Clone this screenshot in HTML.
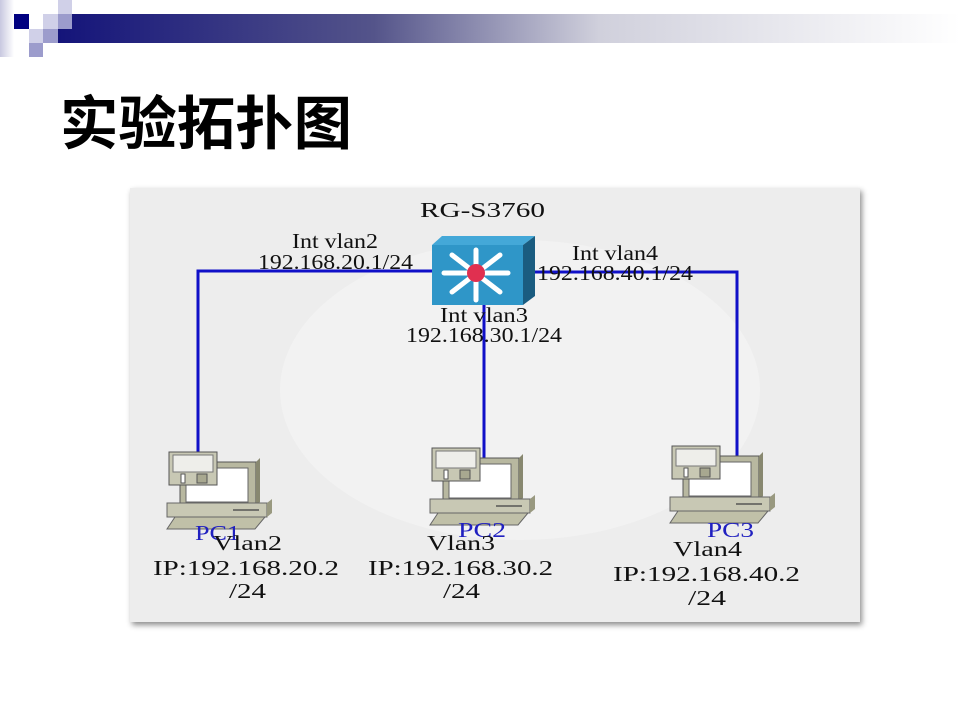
<!DOCTYPE html>
<html><head><meta charset="utf-8"><style>
body{margin:0;width:960px;height:720px;background:#fff;overflow:hidden;font-family:"Liberation Serif",serif;}
</style></head><body>
<svg width="960" height="720" xmlns="http://www.w3.org/2000/svg">
<defs>
<linearGradient id="bar" x1="0" x2="1"><stop offset="0" stop-color="#14147a"/><stop offset="0.35" stop-color="#54548a"/><stop offset="0.6" stop-color="#d0d0dc"/><stop offset="1" stop-color="#ffffff"/></linearGradient>
<linearGradient id="lft" x1="0" x2="1"><stop offset="0" stop-color="#c8c8e0"/><stop offset="1" stop-color="#ffffff"/></linearGradient>
<filter id="sh" x="-5%" y="-5%" width="110%" height="110%"><feDropShadow dx="2" dy="3" stdDeviation="3" flood-color="#000" flood-opacity="0.45"/></filter>
<g id="pc">
<rect x="13" y="10" width="76" height="44" fill="#b8b8a0" stroke="#555" stroke-width="1"/>
<rect x="19" y="16" width="62" height="34" fill="#fff" stroke="#666"/>
<polygon points="89,10 93,6 93,50 89,54" fill="#888870"/>
<rect x="2" y="0" width="48" height="33" fill="#c8c8b4" stroke="#555"/>
<rect x="6" y="3" width="40" height="17" fill="#eeeeea" stroke="#777"/>
<rect x="14" y="22" width="4" height="9" fill="#fff" stroke="#555"/>
<rect x="30" y="22" width="10" height="9" fill="#a8a890" stroke="#555"/>
<rect x="0" y="51" width="100" height="14" fill="#c8c8b4" stroke="#666"/>
<polygon points="100,51 105,47 105,61 100,65" fill="#999980"/>
<line x1="66" y1="58" x2="92" y2="58" stroke="#555" stroke-width="1.5"/>
<polygon points="8,65 98,65 88,77 0,77" fill="#c0c0a8" stroke="#666"/>
</g>
</defs>
<rect x="0" y="0" width="14" height="57" fill="url(#lft)"/>
<rect x="58" y="14" width="902" height="29" fill="url(#bar)"/>
<rect x="14" y="14" width="15" height="15" fill="#000080"/>
<rect x="43" y="14" width="15" height="15" fill="#d0d0e8"/>
<rect x="58" y="0" width="14" height="14" fill="#d0d0e8"/>
<rect x="58" y="14" width="14" height="15" fill="#9c9ccc"/>
<rect x="29" y="29" width="14" height="14" fill="#d0d0e8"/>
<rect x="43" y="29" width="15" height="14" fill="#9c9ccc"/>
<rect x="29" y="43" width="14" height="14" fill="#9c9ccc"/>
<text x="60" y="144" font-family="Noto Sans CJK SC,sans-serif" font-size="58" font-weight="bold" fill="#000" textLength="292" lengthAdjust="spacingAndGlyphs">实验拓扑图</text>

<rect x="130" y="188" width="730" height="434" fill="#ededed" filter="url(#sh)"/>
<ellipse cx="520" cy="390" rx="240" ry="150" fill="#f4f4f4" opacity="0.7"/>
<g stroke="#1010c8" stroke-width="3" fill="none">
<polyline points="198,452 198,271 434,271"/>
<polyline points="534,272 737,272 737,460"/>
<line x1="484" y1="305" x2="484" y2="470"/>
</g>
<polygon points="432,245 442,236 535,236 523,245" fill="#44a8d8"/>
<polygon points="523,245 535,236 535,296 523,305" fill="#1a5c80"/>
<rect x="432" y="245" width="91" height="60" fill="#2f96c8"/>
<g stroke="#fff" stroke-width="5" stroke-linecap="round">
<line x1="476" y1="250" x2="476" y2="300"/><line x1="444" y1="273" x2="508" y2="273"/>
<line x1="452" y1="255" x2="500" y2="292"/><line x1="500" y1="255" x2="452" y2="292"/>
</g>
<circle cx="476" cy="273" r="9" fill="#e03050"/>
<use href="#pc" x="167" y="452"/>
<use href="#pc" x="430" y="448"/>
<use href="#pc" x="670" y="446"/>
<g font-size="21" fill="#111">
<text x="420" y="217" textLength="125" lengthAdjust="spacingAndGlyphs">RG-S3760</text>
<text x="292" y="248" textLength="86" lengthAdjust="spacingAndGlyphs">Int vlan2</text>
<text x="258" y="269" textLength="155" lengthAdjust="spacingAndGlyphs">192.168.20.1/24</text>
<text x="572" y="260" textLength="86" lengthAdjust="spacingAndGlyphs">Int vlan4</text>
<text x="537" y="280" textLength="156" lengthAdjust="spacingAndGlyphs">192.168.40.1/24</text>
<text x="440" y="322" textLength="88" lengthAdjust="spacingAndGlyphs">Int vlan3</text>
<text x="406" y="342" textLength="156" lengthAdjust="spacingAndGlyphs">192.168.30.1/24</text>
<g fill="#2020c0"><text x="195" y="540" textLength="45" lengthAdjust="spacingAndGlyphs">PC1</text><text x="458" y="537" textLength="48" lengthAdjust="spacingAndGlyphs">PC2</text><text x="707" y="537" textLength="47" lengthAdjust="spacingAndGlyphs">PC3</text></g>
<text x="213" y="550" textLength="69" lengthAdjust="spacingAndGlyphs">Vlan2</text><text x="153" y="575" textLength="186" lengthAdjust="spacingAndGlyphs">IP:192.168.20.2</text><text x="229" y="598" textLength="37" lengthAdjust="spacingAndGlyphs">/24</text>
<text x="427" y="550" textLength="68" lengthAdjust="spacingAndGlyphs">Vlan3</text><text x="368" y="575" textLength="185" lengthAdjust="spacingAndGlyphs">IP:192.168.30.2</text><text x="443" y="598" textLength="37" lengthAdjust="spacingAndGlyphs">/24</text>
<text x="673" y="556" textLength="69" lengthAdjust="spacingAndGlyphs">Vlan4</text><text x="613" y="581" textLength="187" lengthAdjust="spacingAndGlyphs">IP:192.168.40.2</text><text x="688" y="605" textLength="38" lengthAdjust="spacingAndGlyphs">/24</text>
</g>
</svg>
</body></html>
